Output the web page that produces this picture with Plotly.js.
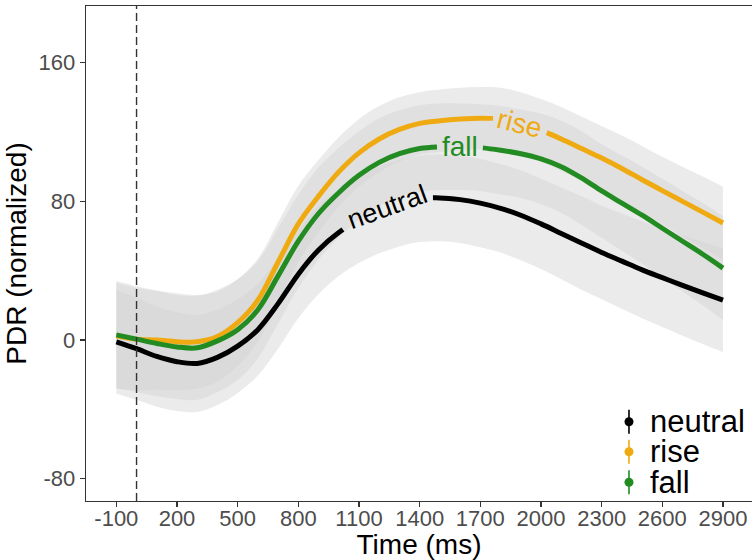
<!DOCTYPE html>
<html>
<head>
<meta charset="utf-8">
<script src="https://cdn.plot.ly/plotly-3.0.1.min.js"></script>
<style>
  html, body { margin: 0; padding: 0; background: #ffffff; }
  #chart { width: 752px; height: 560px; }
</style>
</head>
<body>
<div id="chart"></div>
<script>
// ---- data ----
const timeMs = [-100, 0, 100, 200, 300, 400, 500, 600, 700, 800, 900, 1000, 1100, 1200, 1300, 1400, 1500,
                1600, 1700, 1800, 1900, 2000, 2100, 2200, 2300, 2400, 2500, 2600, 2700, 2800, 2900];

const neutralPDR = [-1, -5, -9.5, -12.5, -13.5, -10, -3.5, 6, 21, 38, 52, 62, 69.5, 75, 79, 81.5, 82,
                    81, 79, 76, 72, 67, 61.5, 56, 50.5, 45.5, 40.5, 36, 31.5, 27.2, 23];
const risePDR    = [2.5, 0.5, 0, -1, -1, 2, 10, 23, 45, 67, 83, 97, 108, 116, 121.5, 125, 126.5,
                    127.5, 128, 127.5, 125, 121, 116, 110.5, 105, 99, 92.5, 86.2, 80, 73.8, 67.5];
const fallPDR    = [3, 0.5, -2, -4, -4.5, -0.5, 6, 17.5, 37, 57, 73, 85, 95, 102.5, 107.5, 110.5, 111.5,
                    111.5, 111, 109.5, 107.5, 104.5, 100, 93.5, 86, 79, 72, 64.5, 57, 49.5, 41.5];

// half-widths of the confidence bands
const neutralCI = [30, 29.5, 29, 28.5, 28, 27.5, 27, 26.5, 26, 25.5, 25.5, 25, 25, 25, 25, 25, 25,
                   25, 25.5, 25.5, 26, 26, 26.5, 27, 27, 27.5, 28, 28.5, 29, 29.5, 30];
const riseCI    = [30.5, 29.5, 28.5, 28, 27, 26, 25, 24, 23, 22, 21, 20, 19.5, 19, 18.5, 18, 18,
                   18, 18, 18, 18, 18, 18.5, 18.5, 18.5, 19, 19.5, 19.5, 20, 20.5, 21];
const fallCI    = [31, 30.5, 30.5, 30, 30, 29.5, 29, 28, 27.5, 27, 26.5, 26, 25.5, 25.5, 25, 25, 25,
                   25, 25, 25.5, 25.5, 26, 26.5, 27, 27, 27.5, 28, 28.5, 29, 29.5, 30];

const conditionNames = ["neutral", "rise", "fall"];
const xTickVals = [-100, 200, 500, 800, 1100, 1400, 1700, 2000, 2300, 2600, 2900];
const yTickVals = [-80, 0, 80, 160];
const onsetMs = 0;

// ---- styling ----
const colors = { neutral: "#000000", rise: "#EFAA12", fall: "#228B22" };
const bandFill = "rgba(211,211,211,0.45)";
const series = [
  { name: "neutral", y: neutralPDR, ci: neutralCI },
  { name: "rise",    y: risePDR,    ci: riseCI },
  { name: "fall",    y: fallPDR,    ci: fallCI }
];
// label placement on the curves (centre in ms, rotation, gap in ms)
const labelStyle = {
  neutral: { at: 1240, angle: -20, gap: [1020, 1465], size: 27 },
  fall:    { at: 1600, angle: 0,   gap: [1485, 1712], size: 28 },
  rise:    { at: 1895, angle: 14,  gap: [1762, 2028], size: 28 }
};

function valueAt(xs, ys, x) {
  for (let i = 0; i < xs.length - 1; i++) {
    if (x >= xs[i] && x <= xs[i + 1]) {
      const t = (x - xs[i]) / (xs[i + 1] - xs[i]);
      return ys[i] + t * (ys[i + 1] - ys[i]);
    }
  }
  return ys[ys.length - 1];
}

const traces = [];
series.forEach(s => {
  traces.push({
    x: timeMs, y: s.y.map((v, i) => v - s.ci[i]), type: "scatter", mode: "lines",
    line: { width: 0, shape: "spline", smoothing: 1 }, showlegend: false, hoverinfo: "skip"
  });
  traces.push({
    x: timeMs, y: s.y.map((v, i) => v + s.ci[i]), type: "scatter", mode: "lines",
    line: { width: 0, shape: "spline", smoothing: 1 }, fill: "tonexty", fillcolor: bandFill,
    showlegend: false, hoverinfo: "skip"
  });
});
series.forEach(s => {
  traces.push({
    x: timeMs, y: s.y, type: "scatter", mode: "lines", name: s.name,
    line: { color: colors[s.name], width: 5, shape: "spline", smoothing: 1 },
    showlegend: false
  });
});

const annotations = series.map(s => {
  const st = labelStyle[s.name];
  return {
    x: st.at, y: valueAt(timeMs, s.y, st.at), xref: "x", yref: "y",
    text: s.name, showarrow: false, textangle: st.angle,
    xanchor: "center", yanchor: "middle",
    font: { family: "Liberation Sans, Arial, sans-serif", size: st.size, color: colors[s.name] }
  };
});

// custom legend (point + vertical error bar), bottom-right inside panel
const legendX = 0.8153, legendTextX = 0.8438;
const legendY = [0.1602, 0.0996, 0.0378];
const shapes = [{
  type: "line", xref: "x", yref: "paper", x0: onsetMs, x1: onsetMs, y0: 0, y1: 1,
  line: { color: "#333333", width: 1.4, dash: "8px,4px" }
}];
conditionNames.forEach((name, i) => {
  shapes.push({
    type: "line", xref: "paper", yref: "paper", xsizemode: "pixel", ysizemode: "pixel",
    xanchor: legendX, yanchor: legendY[i], x0: 0, x1: 0, y0: -12, y1: 12,
    line: { color: colors[name], width: 1.6 }
  });
  shapes.push({
    type: "circle", xref: "paper", yref: "paper", xsizemode: "pixel", ysizemode: "pixel",
    xanchor: legendX, yanchor: legendY[i], x0: -4.5, x1: 4.5, y0: -4.5, y1: 4.5,
    fillcolor: colors[name], line: { color: colors[name], width: 0 }
  });
  annotations.push({
    x: legendTextX, y: legendY[i], xref: "paper", yref: "paper", text: name,
    showarrow: false, xanchor: "left", yanchor: "middle", height: 27, valign: "middle",
    font: { family: "Liberation Sans, Arial, sans-serif", size: 31, color: "#000000" }
  });
});

const layout = {
  width: 752, height: 560,
  margin: { l: 86, r: 0, t: 6, b: 59 },
  paper_bgcolor: "#ffffff", plot_bgcolor: "#ffffff",
  font: { family: "Liberation Sans, Arial, sans-serif" },
  showlegend: false,
  xaxis: {
    range: [-250, 3043.5], showgrid: false, zeroline: false,
    showline: true, linecolor: "#333333", linewidth: 1.3, mirror: true,
    ticks: "outside", ticklen: 5, tickwidth: 1.1, tickcolor: "#333333",
    tickvals: xTickVals, ticktext: xTickVals.map(String),
    ticklabelstandoff: -8,
    tickfont: { size: 22, color: "#4d4d4d" },
    title: { text: "Time (ms)", font: { size: 28, color: "#000000" }, standoff: 0 }
  },
  yaxis: {
    range: [-92.87, 192.71], showgrid: false, zeroline: false,
    showline: true, linecolor: "#333333", linewidth: 1.3,
    ticks: "outside", ticklen: 5, tickwidth: 1.1, tickcolor: "#333333",
    tickvals: yTickVals, ticktext: yTickVals.map(String),
    tickfont: { size: 22, color: "#4d4d4d" },
    title: { text: "PDR (normalized)", font: { size: 28, color: "#000000" }, standoff: 3 }
  },
  shapes: shapes,
  annotations: annotations
};

const gd = document.getElementById("chart");
Plotly.newPlot(gd, traces, layout, { displayModeBar: false, staticPlot: true }).then(() => {
  // open a gap in each curve where its text label sits
  const xa = gd._fullLayout.xaxis;
  const traceGroups = gd.querySelectorAll(".scatterlayer .trace");
  series.forEach((s, k) => {
    const g = traceGroups[6 + k];
    if (!g) return;
    const path = g.querySelector("path.js-line");
    if (!path) return;
    const L = path.getTotalLength();
    const findLen = (px) => {
      let lo = 0, hi = L;
      for (let it = 0; it < 40; it++) {
        const mid = (lo + hi) / 2;
        if (path.getPointAtLength(mid).x < px) lo = mid; else hi = mid;
      }
      return (lo + hi) / 2;
    };
    const gap = labelStyle[s.name].gap;
    const s0 = findLen(xa.l2p(gap[0]));
    const s1 = findLen(xa.l2p(gap[1]));
    path.style.strokeDasharray = s0 + " " + (s1 - s0) + " " + (L + 10);
  });
});
</script>
</body>
</html>
